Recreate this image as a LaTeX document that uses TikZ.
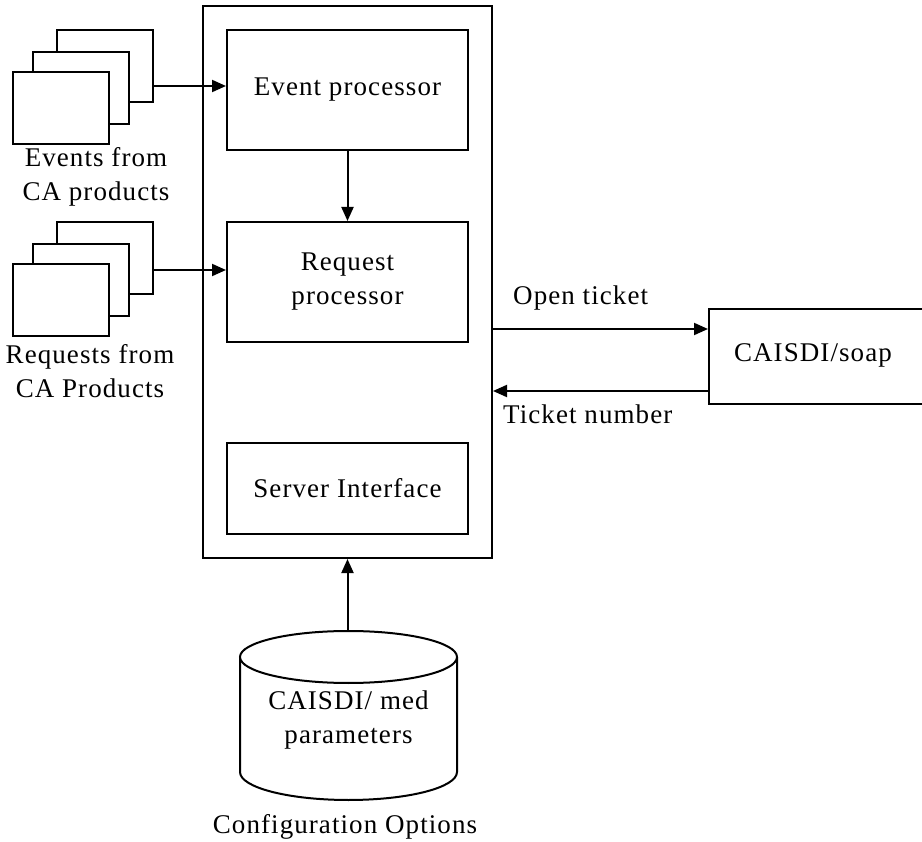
\documentclass[tikz,border=0pt]{standalone}
\usepackage{fontspec}
\setmainfont[LetterSpace=4]{Liberation Serif}
\usetikzlibrary{arrows.meta}
\begin{document}
\begin{tikzpicture}[x=1pt,y=-1pt,
  every node/.style={font=\fontsize{27}{34}\selectfont},
  box/.style={draw, line width=2pt, fill=white, inner sep=0pt},
  lbl/.style={inner sep=0pt, align=center},
  conn/.style={line width=2pt, -{Triangle[length=14pt,width=12pt]}}]
\clip (0,0) rectangle (922,842);
\fill[white] (0,0) rectangle (922,842);
% outer server box
\node[box, minimum width=289, minimum height=552] (outer) at (347.5,282) {};
% inner boxes
\node[box, minimum width=241, minimum height=120] (ep) at (347.5,90) {Event processor};
\node[box, minimum width=241, minimum height=120, align=center] (rp) at (347.5,282) {Request\\processor};
\node[box, minimum width=241, minimum height=91] (si) at (347.5,488.5) {Server Interface};
% event stack
\node[box, minimum width=96, minimum height=72] (e3) at (105,66) {};
\node[box, minimum width=96, minimum height=72] (e2) at (81,88) {};
\node[box, minimum width=96, minimum height=72] (e1) at (61,108) {};
\node[lbl] (elbl) at (96,177) {Events from\\CA products};
% request stack
\node[box, minimum width=96, minimum height=72] (r3) at (105,258) {};
\node[box, minimum width=96, minimum height=72] (r2) at (81,280) {};
\node[box, minimum width=96, minimum height=72] (r1) at (61,300) {};
\node[lbl] (rlbl) at (90,371) {Requests from\\CA Products};
% soap box
\node[box, minimum width=225, minimum height=95, anchor=west] (soap) at (708,356.5) {};
\node[lbl] (soaptxt) at (813,355) {CAISDI/soap};
% connectors
\draw[conn] ([yshift=-20pt]e3.east) -- ([yshift=-20pt]e3.east -| ep.west);
\draw[conn] ([yshift=-12pt]r3.east) -- ([yshift=-12pt]r3.east -| rp.west);
\draw[conn] (ep.south) -- (rp.north);
\draw[conn] ([yshift=27.5pt]soap.west -| outer.east) -- ([yshift=27.5pt]soap.west);
\draw[conn] ([yshift=-34.5pt]soap.west) -- ([yshift=-34.5pt]soap.west -| outer.east);
\node[lbl, anchor=west] (open) at (513,298) {Open ticket};
\node[lbl, anchor=west] (tnum) at (503,414) {Ticket number};
% cylinder
\draw[line width=2pt, fill=white] (240,657) -- (240,772) arc[start angle=180, end angle=360, x radius=108.5, y radius=-28] -- (457,657);
\draw[line width=2pt, fill=white] (348.5,657) ellipse[x radius=108.5, y radius=26];
\coordinate (cyltop) at (347.5,631);
\node[lbl] (cyltxt) at (348.5,720) {CAISDI/ med\\parameters};
\node[lbl] (conf) at (345,827) {Configuration Options};
\draw[conn] (cyltop) -- (outer.south);
\end{tikzpicture}
\end{document}
